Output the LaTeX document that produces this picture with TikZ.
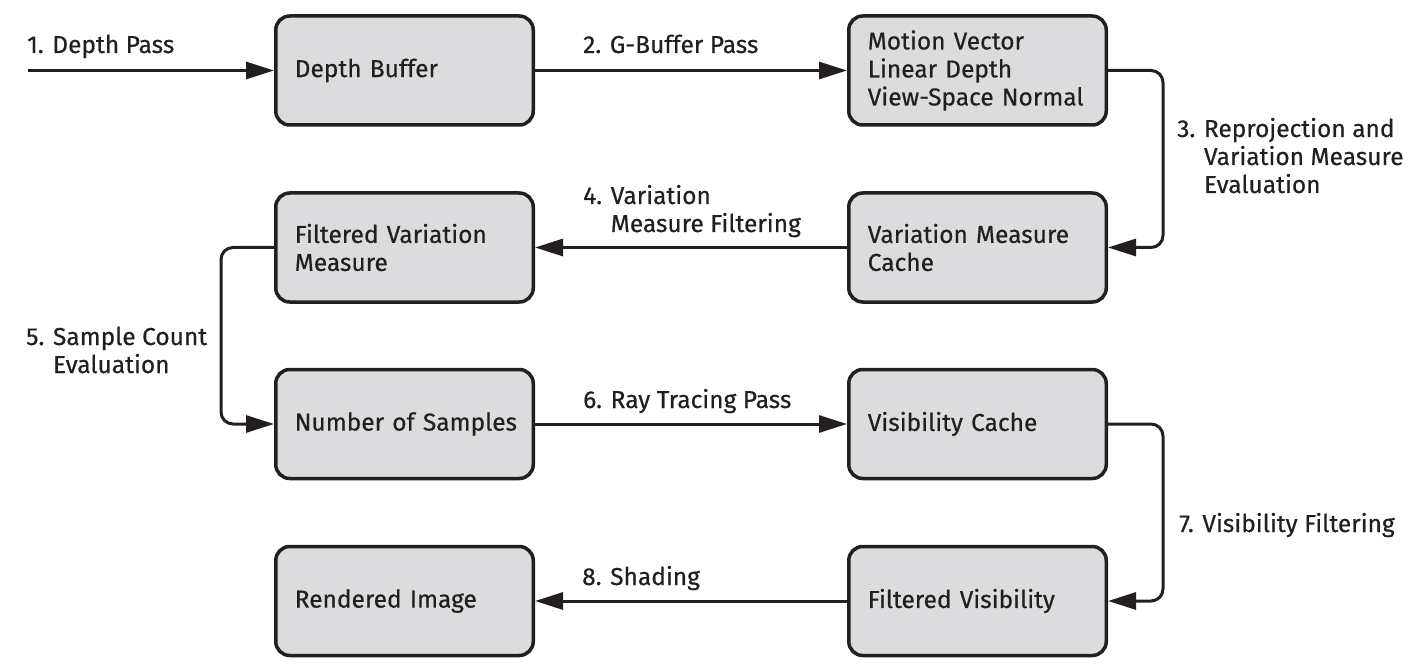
\documentclass[tikz,border=0pt]{standalone}
\usepackage{fontspec}
\setmainfont{Fira Sans}[FakeBold=0.5]
\usetikzlibrary{arrows.meta}
\definecolor{boxfill}{HTML}{DCDCDE}
\definecolor{ink}{HTML}{231F20}
\begin{document}
\begin{tikzpicture}[x=1pt,y=-1pt,
  box/.style={draw=ink, fill=boxfill, line width=3.5pt, rounded corners=14pt,
    minimum width=257.5pt, minimum height=109pt, text width=219.5pt,
    inner xsep=19pt, align=left, font=\fontsize{24.5}{28}\selectfont, text=ink},
  conn/.style={draw=ink, line width=3pt, rounded corners=12pt,
    -{Triangle[length=28pt,width=17pt]}},
  lab/.style={anchor=base west, inner sep=0pt, align=left,
    font=\fontsize{24.5}{28}\selectfont, text=ink}]
\useasboundingbox (0,0) rectangle (1418,668);

\node[box] (A) at (404.5,70.5) {Depth Buffer};
\node[box] (B) at (977.5,70.5) {Motion Vector\\Linear Depth\\View-Space Normal};
\node[box] (C) at (977.5,247.5) {Variation Measure\\Cache};
\node[box] (D) at (404.5,247.5) {Filtered Variation\\Measure};
\node[box] (E) at (404.5,424) {\mbox{Number of Samples}};
\node[box] (F) at (977.5,424) {Visibility Cache};
\node[box] (G) at (977.5,601) {Filtered Visibility};
\node[box] (H) at (404.5,601) {Rendered Image};

\coordinate (S) at (28,70.5);
\draw[conn] (S) -- (A.west);
\draw[conn] (A.east) -- (B.west);
\draw[conn] (B.east) -- ++(55,0) |- (C.east);
\draw[conn] (C.west) -- (D.east);
\draw[conn] (D.west) -- ++(-53,0) |- (E.west);
\draw[conn] (E.east) -- (F.west);
\draw[conn] (F.east) -- ++(55,0) |- (G.east);
\draw[conn] (G.west) -- (H.east);

\node[lab] (l1) at (27,53) {1. Depth Pass};
\node[lab] (l2) at (583,53) {2. G-Buffer Pass};
\node[lab] (l3) at (1177,193) {3. Reprojection and\\\phantom{3. }Variation Measure\\\phantom{3. }Evaluation};
\node[lab] (l4) at (583,232) {4. Variation\\\phantom{4. }Measure Filtering};
\node[lab] (l5) at (26,373) {5. Sample Count\\\phantom{5. }Evaluation};
\node[lab] (l6) at (583,408) {6. Ray Tracing Pass};
\node[lab] (l7) at (1179,532) {7. Visibility Filtering};
\node[lab] (l8) at (582,585) {8. Shading};
\end{tikzpicture}
\end{document}
